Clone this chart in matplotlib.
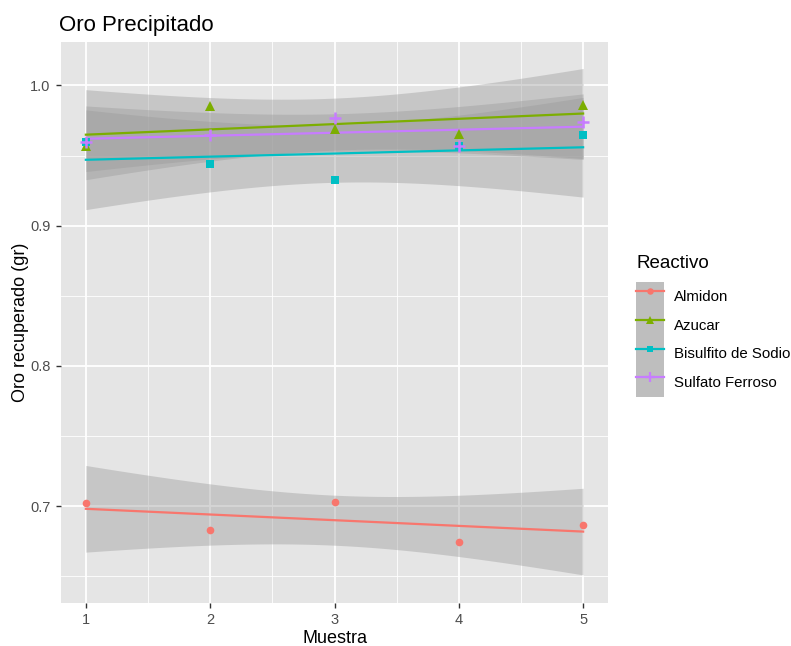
import numpy as np
import matplotlib
matplotlib.use('Agg')
import matplotlib.pyplot as plt
from matplotlib.lines import Line2D
from matplotlib.patches import Patch
from matplotlib.legend_handler import HandlerTuple

plt.rcParams['font.family'] = ['Liberation Sans', 'DejaVu Sans']

muestra = [1, 2, 3, 4, 5]
reactivos = ['Almidon', 'Azucar', 'Bisulfito de Sodio', 'Sulfato Ferroso']
almidon = [0.7026, 0.6832, 0.7033, 0.6744, 0.6867]
azucar = [0.9571, 0.9853, 0.9687, 0.9652, 0.9860]
bisulfito = [0.9597, 0.9439, 0.9327, 0.9566, 0.9645]
sulfato = [0.9595, 0.9645, 0.9768, 0.9566, 0.9742]

series = [almidon, azucar, bisulfito, sulfato]
colors = ['#F8766D', '#7CAE00', '#00BFC4', '#C77CFF']
markers = ['o', '^', 's', '+']
msizes = [5.5, 6.5, 5.5, 8]

T_975_DF3 = 3.182446  # t quantile for 95% CI with n-2 = 3 df

fig = plt.figure(figsize=(7.91, 6.46), dpi=100)
ax = fig.add_axes([61 / 791, 1 - 603 / 646, 547 / 791, 561 / 646])
ax.set_facecolor('#E5E5E5')

x = np.array(muestra, dtype=float)
xg = np.linspace(1, 5, 80)
for y in series:
    y = np.array(y)
    b, a = np.polyfit(x, y, 1)
    resid = y - (a + b * x)
    s = np.sqrt((resid ** 2).sum() / (len(x) - 2))
    sxx = ((x - x.mean()) ** 2).sum()
    fit = a + b * xg
    se = s * np.sqrt(1 / len(x) + (xg - x.mean()) ** 2 / sxx)
    ax.fill_between(xg, fit - T_975_DF3 * se, fit + T_975_DF3 * se,
                    color='#999999', alpha=0.4, linewidth=0, zorder=2)

handles = []
for y, c, m, ms, name in zip(series, colors, markers, msizes, reactivos):
    y = np.array(y)
    b, a = np.polyfit(x, y, 1)
    ax.plot(xg, a + b * xg, color=c, lw=1.6, zorder=3)
    ax.plot(x, y, linestyle='none', marker=m, color=c,
            markersize=ms, mew=1.8 if m == '+' else 0, zorder=4)
    ln = Line2D([], [], color=c, lw=1.6, marker=m,
                markersize=ms * 0.85, mew=1.6 if m == '+' else 0)
    handles.append((Patch(facecolor='#BEBEBE', edgecolor='none'), ln))

ax.set_xlim(0.8, 5.2)
ax.set_ylim(0.631, 1.031)
ax.set_xticks(muestra)
ax.set_xticks([1.5, 2.5, 3.5, 4.5], minor=True)
ax.set_yticks([0.7, 0.8, 0.9, 1.0])
ax.set_yticklabels(['0.7', '0.8', '0.9', '1.0'])
ax.set_yticks([0.65, 0.75, 0.85, 0.95], minor=True)
ax.grid(True, which='major', color='white', lw=1.3)
ax.grid(True, which='minor', color='white', lw=0.6)
ax.set_axisbelow(True)
for sp in ax.spines.values():
    sp.set_visible(False)
ax.tick_params(which='major', length=3.5, width=1, color='#333333',
               labelsize=10.5, labelcolor='#4D4D4D', pad=4)
ax.tick_params(which='minor', length=0)

ax.set_xlabel('Muestra', fontsize=13, color='black', labelpad=2)
ax.set_ylabel('Oro recuperado (gr)', fontsize=13, color='black', labelpad=1)
ax.set_title('Oro Precipitado', fontsize=16, loc='left', pad=8, x=-0.003)

fig.text(636 / 791, 1 - 263 / 646, 'Reactivo', fontsize=13.5, ha='left', va='center')
leg = fig.legend(handles, reactivos, handler_map={tuple: HandlerTuple(ndivide=1, pad=0)},
                 loc='upper left', bbox_to_anchor=(636 / 791, 1 - 282 / 646),
                 frameon=False, fontsize=10.8,
                 labelspacing=0, handlelength=1.87, handleheight=2.56, handletextpad=0.65,
                 borderaxespad=0, borderpad=0)

fig.savefig('out.png', dpi=100)
